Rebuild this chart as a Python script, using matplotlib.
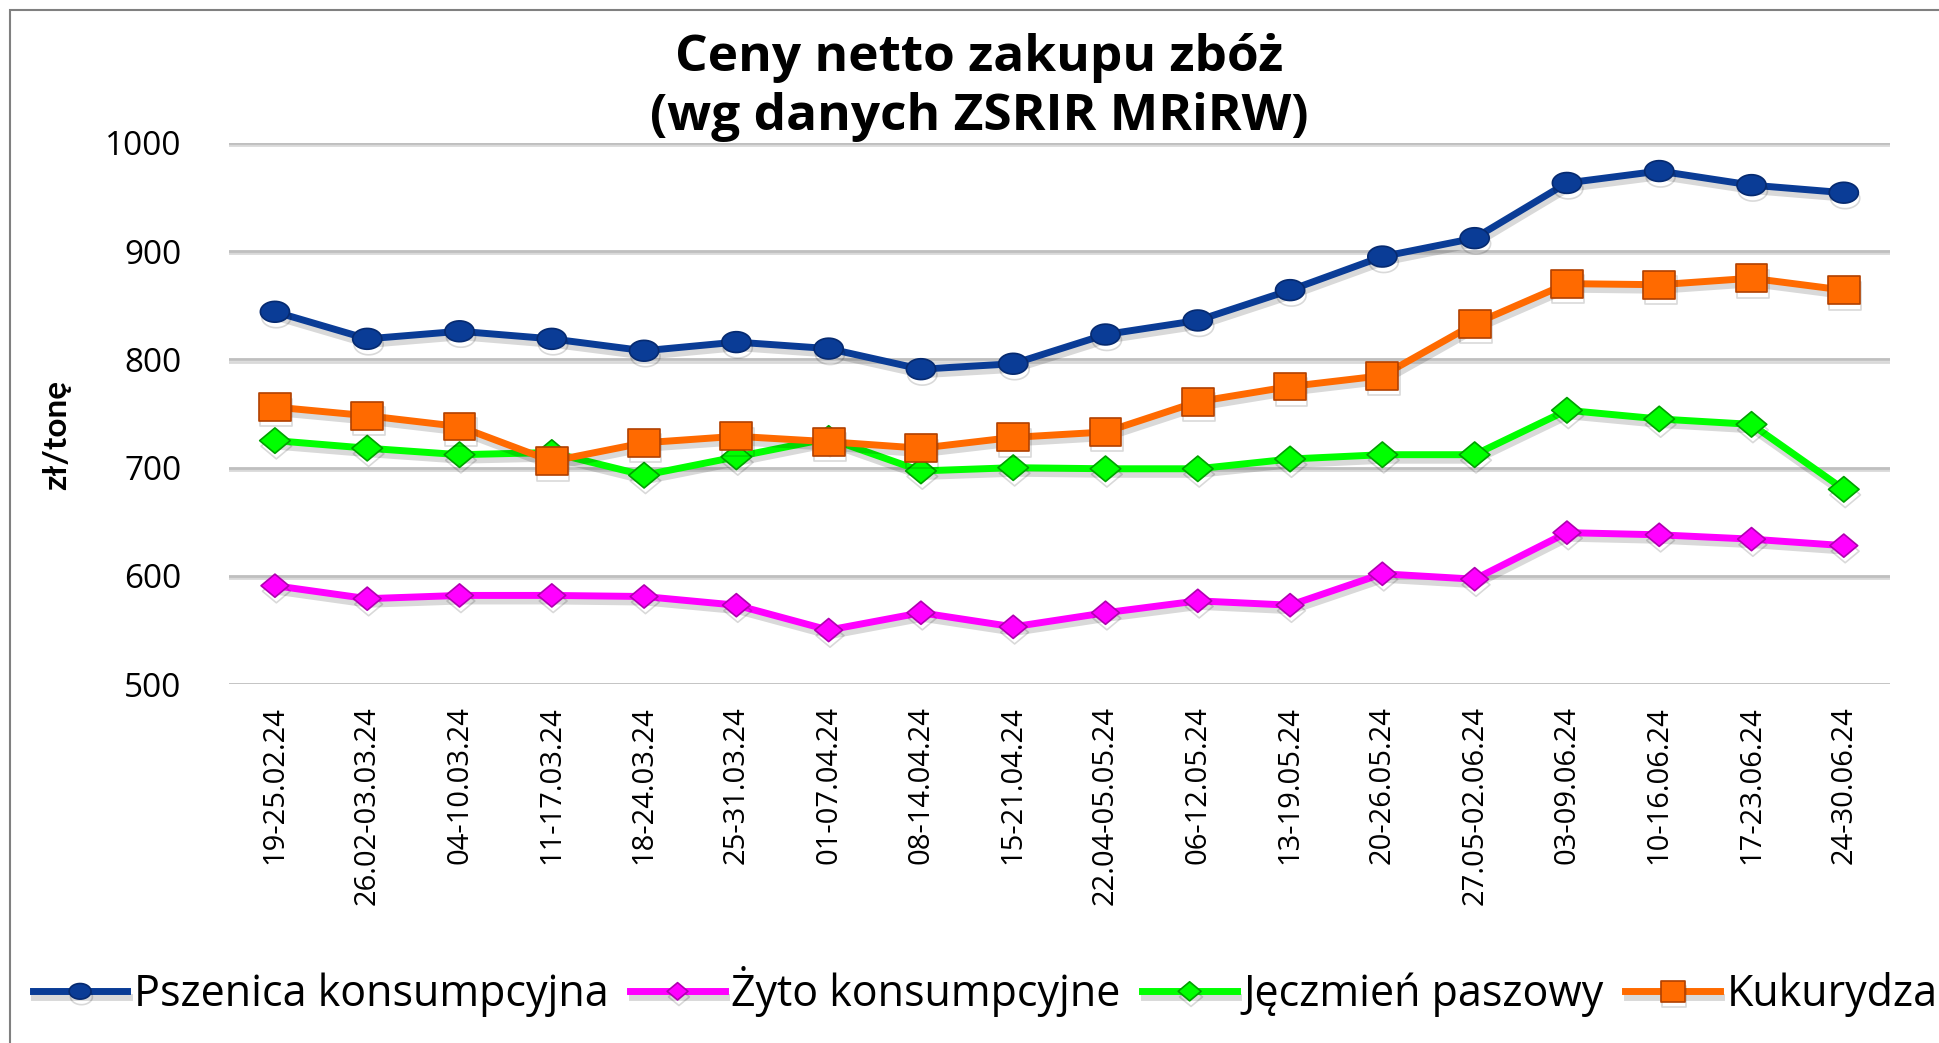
import matplotlib
matplotlib.use("Agg")
import matplotlib.pyplot as plt
import matplotlib.patheffects as pe
from matplotlib.path import Path
from matplotlib.patches import Rectangle
import numpy as np

weeks = ['19-25.02.24', '26.02-03.03.24', '04-10.03.24', '11-17.03.24', '18-24.03.24',
         '25-31.03.24', '01-07.04.24', '08-14.04.24', '15-21.04.24', '22.04-05.05.24',
         '06-12.05.24', '13-19.05.24', '20-26.05.24', '27.05-02.06.24', '03-09.06.24',
         '10-16.06.24', '17-23.06.24', '24-30.06.24']

pszenica = [844, 819, 826, 819, 808, 816, 810, 791, 796, 823, 836, 864, 895, 912, 963, 974, 961, 954]
zyto = [591, 579, 582, 582, 581, 573, 550, 566, 553, 566, 577, 573, 602, 597, 640, 638, 634, 628]
jeczmien = [725, 718, 712, 714, 693, 710, 727, 697, 700, 699, 699, 708, 712, 712, 753, 745, 740, 680]
kukurydza = [756, 748, 738, 706, 723, 729, 724, 718, 728, 733, 761, 775, 785, 833, 870, 869, 875, 864]

# markers a bit wider than tall, like the Excel ones
t = np.linspace(0, 2 * np.pi, 40)
ellipse = Path(np.column_stack([1.4 * np.cos(t), np.sin(t)]), closed=True)
diamond = Path([(-1.2, 0), (0, 1), (1.2, 0), (0, -1), (-1.2, 0)], closed=True)
box = Path([(-1.15, -1), (1.15, -1), (1.15, 1), (-1.15, 1), (-1.15, -1)], closed=True)

fig = plt.figure(figsize=(19.39, 10.43), dpi=100)
fig.patches.append(Rectangle((0.005, -0.1), 1.2, 1.0904, transform=fig.transFigure,
                             fill=False, edgecolor='#808080', linewidth=1.5))
ax = fig.add_axes([0.118, 0.344, 0.8567, 0.519])

x = np.arange(len(weeks))
shadow = [pe.SimpleLineShadow(offset=(1, -4), shadow_color='#000000', alpha=0.15), pe.Normal()]

series = [
    (pszenica, 'Pszenica konsumpcyjna', '#0A3C96', ellipse, 21, '#062a70'),
    (zyto, 'Żyto konsumpcyjne', '#FF00FF', diamond, 20, '#b000b0'),
    (jeczmien, 'Jęczmień paszowy', '#00FF00', diamond, 22, '#00a000'),
    (kukurydza, 'Kukurydza', '#FF6A00', box, 23, '#b04000'),
]
for vals, name, col, mk, ms, edge in series:
    ax.plot(x, vals, color=col, linewidth=5, marker=mk, markersize=ms,
            markerfacecolor=col, markeredgecolor=edge, markeredgewidth=1.2,
            label=name, path_effects=shadow, zorder=3)

ax.set_xlim(-0.5, len(weeks) - 0.5)
ax.set_ylim(500, 1000)
ax.set_yticks([500, 600, 700, 800, 900, 1000])
ax.set_xticks(x)
ax.set_xticklabels(weeks, rotation=90, fontsize=21, family=['Open Sans', 'DejaVu Sans'])
for lbl in ax.get_yticklabels():
    lbl.set_fontsize(24)
    lbl.set_family(['Open Sans', 'DejaVu Sans'])
ax.tick_params(axis='x', length=0, pad=16)
ax.tick_params(axis='y', length=0, pad=34)
ax.grid(axis='y', color='#BFBFBF', linewidth=2,
        path_effects=[pe.SimpleLineShadow(offset=(0, -1.5), alpha=0.15), pe.Normal()])
ax.set_axisbelow(True)
for s in ax.spines.values():
    s.set_visible(False)

fig.text(0.029, 0.583, 'zł/tonę', rotation=90, ha='center', va='center',
         fontsize=24, fontweight='bold', family=['Lato', 'DejaVu Sans'])
fig.text(0.505, 0.944, 'Ceny netto zakupu zbóż', ha='center', va='center',
         fontsize=37, fontweight='bold', family=['Open Sans', 'DejaVu Sans'])
fig.text(0.505, 0.888, '(wg danych ZSRIR MRiRW)', ha='center', va='center',
         fontsize=37, fontweight='bold', family=['Open Sans', 'DejaVu Sans'])

fig.legend(loc='center left', bbox_to_anchor=(0.008, 0.049), ncol=4, frameon=False,
           prop={'family': ['Open Sans', 'DejaVu Sans'], 'size': 31},
           handlelength=2.2, handletextpad=0.15, columnspacing=0.5, borderaxespad=0,
           markerscale=0.75)

fig.savefig('out.png', dpi=100)
